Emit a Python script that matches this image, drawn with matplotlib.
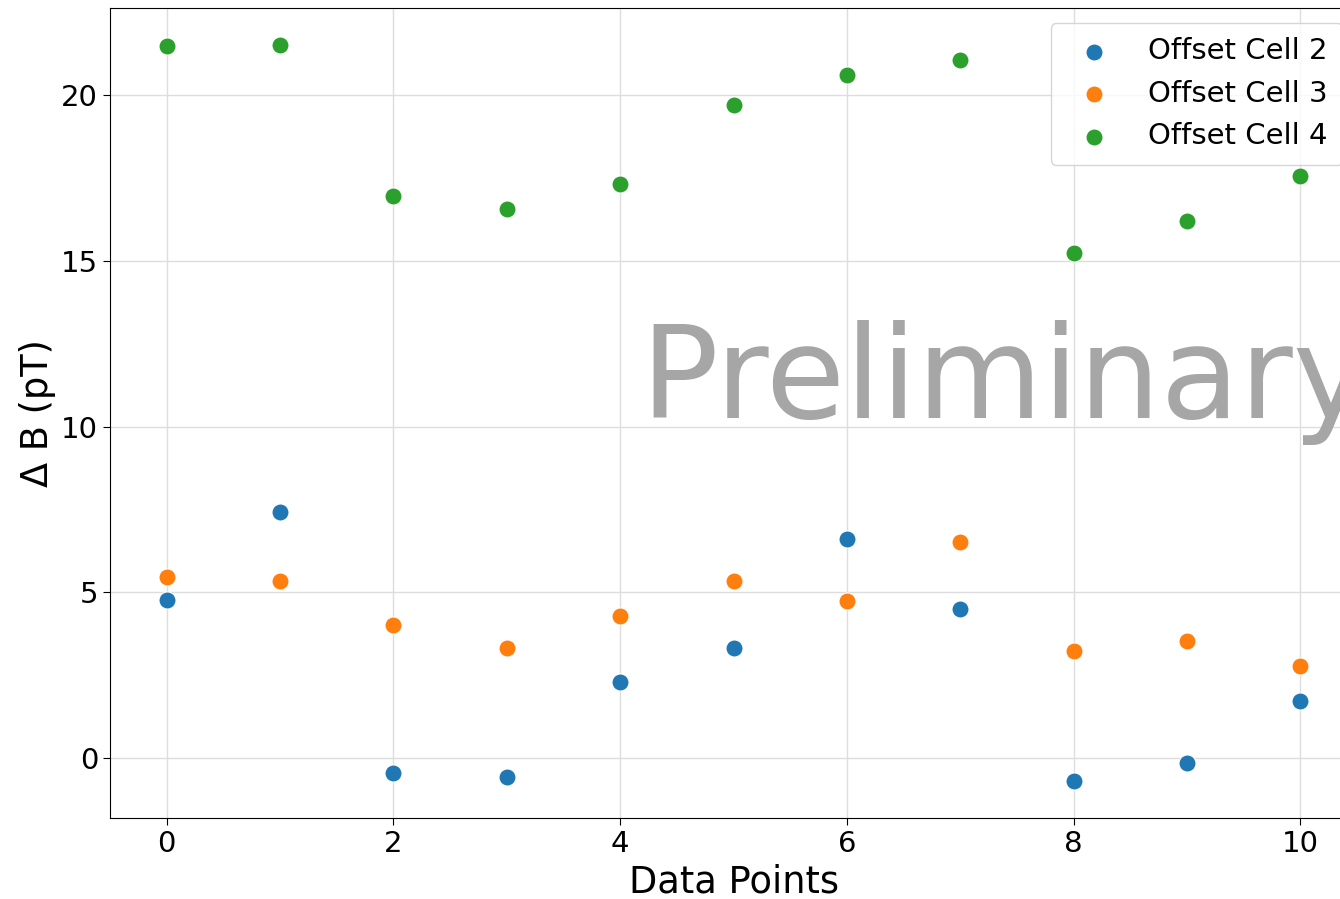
import numpy as np
import matplotlib
matplotlib.use('Agg')
import matplotlib.pyplot as plt

points = np.arange(11)
cell2 = [4.77, 7.42, -0.45, -0.57, 2.29, 3.32, 6.61, 4.49, -0.69, -0.15, 1.72]
cell3 = [5.46, 5.34, 4.01, 3.32, 4.28, 5.34, 4.74, 6.52, 3.23, 3.53, 2.78]
cell4 = [21.48, 21.51, 16.95, 16.56, 17.32, 19.70, 20.60, 21.06, 15.23, 16.20, 17.56]
labels = ['Offset Cell 2', 'Offset Cell 3', 'Offset Cell 4']

fig = plt.figure(figsize=(13.4, 8.99), dpi=100)
ax = fig.add_axes([0.0821, 0.0901, 0.9306, 0.9009])

for vals, lab, col in zip([cell2, cell3, cell4], labels, ['#1f77b4', '#ff7f0e', '#2ca02c']):
    ax.scatter(points, vals, s=150, color=col, edgecolors='white', linewidths=0.75,
               label=lab, zorder=3)

ax.grid(True, color='#dddddd', linewidth=1, zorder=0)
ax.set_axisbelow(True)
ax.tick_params(labelsize=21, length=5)
ax.set_xlabel('Data Points', fontsize=26.5)
ax.set_ylabel('Δ B (pT)', fontsize=26.5)

# watermark
ax.text(0.425, 0.494, 'Preliminary', transform=ax.transAxes, fontsize=93,
        color='#a6a6a6', ha='left', va='baseline', zorder=2)

ax.legend(loc='upper right', fontsize=21, handletextpad=0.85, borderpad=0.5)

fig.savefig('out.png', dpi=100)
